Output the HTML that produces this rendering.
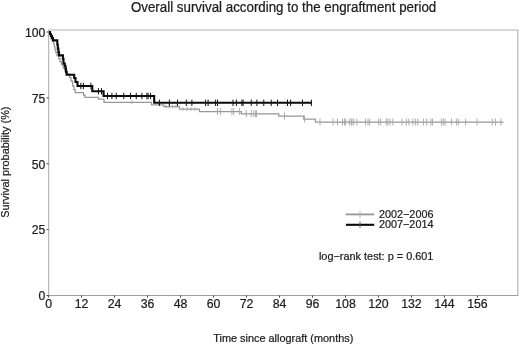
<!DOCTYPE html>
<html lang="en">
<head>
<meta charset="utf-8">
<title>Overall survival according to the engraftment period</title>
<style>
html,body{margin:0;padding:0;background:#fff;}
body{width:520px;height:345px;overflow:hidden;}
svg{display:block;font-family:"Liberation Sans",Arial,sans-serif;fill:#1c1c1c;filter:blur(0.35px);}
text{stroke:#1c1c1c;stroke-width:0.22px;}
</style>
</head>
<body>
<svg width="520" height="345" viewBox="0 0 520 345">
<rect width="520" height="345" fill="#ffffff" stroke="none"/>
<path d="M48.05,30.0H518.4" stroke="#b2b2b2" stroke-width="1.2" fill="none"/>
<path d="M48.05,295.5H518.4" stroke="#9e9e9e" stroke-width="1" fill="none"/>
<path d="M48.65,30.0V295.5M517.8,30.0V295.5" stroke="#b6b6b6" stroke-width="1.2" fill="none"/>
<path d="M48.60,295.5v2.1M81.59,295.5v2.1M114.57,295.5v2.1M147.56,295.5v2.1M180.54,295.5v2.1M213.53,295.5v2.1M246.51,295.5v2.1M279.50,295.5v2.1M312.48,295.5v2.1M345.47,295.5v2.1M378.45,295.5v2.1M411.44,295.5v2.1M444.42,295.5v2.1M477.41,295.5v2.1M48.65,295.50h-2.1M48.65,229.62h-2.1M48.65,163.75h-2.1M48.65,97.88h-2.1M48.65,32.00h-2.1" stroke="#444" stroke-width="1" fill="none"/>
<path d="M49,32H49.5V34H50.3V36.5H51.2V39H52.3V41H53.5V43.5H54.3V46.5H55V49.5H55.8V52.5H57V55.5H58.8V58.5H60V61.5H61.5V64.5H63.2V68H65V71H67V74H69.5V77.25H71V81H72.6V86H74V89.5H75.25V92.5H83.5V95H85V97.25H98.5V99.1H104V102.25H151.5V104.75H163.75V106.6H179.4V109.1H199.4V111.6H241.25V113.75H278.75V116.2H303.75V119H315.4V122H503.6" stroke="#979797" stroke-width="1.25" fill="none"/>
<path d="M131.9,100.45v3.6M166,104.8v3.6M169,104.8v3.6M172.5,104.8v3.6M176,104.8v3.6M183,107.3v3.6M187,107.3v3.6M191,107.3v3.6M195,107.3v3.6M217.5,108.1v7M220.6,108.1v7M231.9,108.1v7M233.75,108.1v7M239.4,108.1v7M246.25,110.25v7M251.25,110.25v7M253.75,110.25v7M255.6,110.25v7M256.5,110.25v7M284.5,112.7v7M304.5,115.5v7M320,118.5v7M333.1,118.5v7M337.5,118.5v7M342.5,118.5v7M344.4,118.5v7M345.6,118.5v7M349.4,118.5v7M351.25,118.5v7M353.75,118.5v7M356.9,118.5v7M352,118.5v7M365.5,118.5v7M368,118.5v7M369.6,118.5v7M378.6,118.5v7M380.7,118.5v7M386.3,118.5v7M387.9,118.5v7M390,118.5v7M392.8,118.5v7M402,118.5v7M406.4,118.5v7M408.8,118.5v7M412.9,118.5v7M415.4,118.5v7M417.8,118.5v7M423.5,118.5v7M426.8,118.5v7M430.9,118.5v7M432.5,118.5v7M441.5,118.5v7M443.3,118.5v7M445.1,118.5v7M451.5,118.5v7M456.4,118.5v7M458.3,118.5v7M465.6,118.5v7M477.1,118.5v7M492.3,118.5v7M495.4,118.5v7M500.9,118.5v7" stroke="#a4a4a4" stroke-width="0.9" fill="none"/>
<path d="M49,32H50V34H51V36H52V38H53V40.4H57.3V44.5H57.8V48.5H58.4V52H59V55.4H62.9V59H63.5V63.5H64.8V66H65.5V68.5H66V72H66.6V74.75H74.2V78H75.5V82H77.5V86H92.3V91.3H103.6V96H154.2V102.8H311.9" stroke="#0a0a0a" stroke-width="2.1" fill="none"/>
<path d="M80.9,82.8v6.4M83.4,82.8v6.4M90.9,82.8v6.4M98.4,88.1v6.4M101.5,88.1v6.4M107.5,92.8v6.4M111.9,92.8v6.4M116.25,92.8v6.4M123.75,92.8v6.4M130.6,92.8v6.4M136.25,92.8v6.4M141.9,92.8v6.4M146.9,92.8v6.4M148.1,92.8v6.4M150.6,92.8v6.4M159.4,99.6v6.4M169.4,99.6v6.4M177.5,99.6v6.4M186.25,99.6v6.4M191.9,99.6v6.4M205.6,99.6v6.4M208.1,99.6v6.4M215.6,99.6v6.4M217.5,99.6v6.4M233.0,99.6v6.4M236.4,99.6v6.4M241.9,99.6v6.4M243.1,99.6v6.4M251.25,99.6v6.4M256.9,99.6v6.4M263.75,99.6v6.4M271.25,99.6v6.4M277.5,99.6v6.4M287.5,99.6v6.4M290.6,99.6v6.4M302.5,99.6v6.4M311.4,99.6v6.4" stroke="#111" stroke-width="1" fill="none"/>
<path d="M345.6,214.4H374.2" stroke="#969696" stroke-width="1.8"/><path d="M360,211v7" stroke="#b0b0b0" stroke-width="0.9"/>
<path d="M345.9,224.8H374.2" stroke="#0a0a0a" stroke-width="2.1"/><path d="M360,221.4v6.6" stroke="#555" stroke-width="0.9"/>
<text x="433.4" y="218" text-anchor="end" font-size="10.8">2002−2006</text>
<text x="433.4" y="228.4" text-anchor="end" font-size="10.8">2007−2014</text>
<text x="433.4" y="260" text-anchor="end" font-size="10.9">log−rank test: p = 0.601</text>
<text x="48.60" y="307.8" text-anchor="middle" font-size="12.3">0</text>
<text x="81.59" y="307.8" text-anchor="middle" font-size="12.3">12</text>
<text x="114.57" y="307.8" text-anchor="middle" font-size="12.3">24</text>
<text x="147.56" y="307.8" text-anchor="middle" font-size="12.3">36</text>
<text x="180.54" y="307.8" text-anchor="middle" font-size="12.3">48</text>
<text x="213.53" y="307.8" text-anchor="middle" font-size="12.3">60</text>
<text x="246.51" y="307.8" text-anchor="middle" font-size="12.3">72</text>
<text x="279.50" y="307.8" text-anchor="middle" font-size="12.3">84</text>
<text x="312.48" y="307.8" text-anchor="middle" font-size="12.3">96</text>
<text x="345.47" y="307.8" text-anchor="middle" font-size="12.3">108</text>
<text x="378.45" y="307.8" text-anchor="middle" font-size="12.3">120</text>
<text x="411.44" y="307.8" text-anchor="middle" font-size="12.3">132</text>
<text x="444.42" y="307.8" text-anchor="middle" font-size="12.3">144</text>
<text x="477.41" y="307.8" text-anchor="middle" font-size="12.3">156</text>
<text x="45.3" y="300.25" text-anchor="end" font-size="12.2">0</text>
<text x="45.3" y="234.38" text-anchor="end" font-size="12.2">25</text>
<text x="45.3" y="168.50" text-anchor="end" font-size="12.2">50</text>
<text x="45.3" y="102.63" text-anchor="end" font-size="12.2">75</text>
<text x="45.3" y="36.75" text-anchor="end" font-size="12.2">100</text>
<text transform="translate(283.55,11.9) scale(1,1.1)" text-anchor="middle" font-size="13.35">Overall survival according to the engraftment period</text>
<text x="283.3" y="342.3" text-anchor="middle" font-size="10.9">Time since allograft (months)</text>
<text transform="translate(9.2,162.2) rotate(-90) scale(1,0.94)" text-anchor="middle" font-size="10.9">Survival probability (%)</text>
</svg>
</body>
</html>
